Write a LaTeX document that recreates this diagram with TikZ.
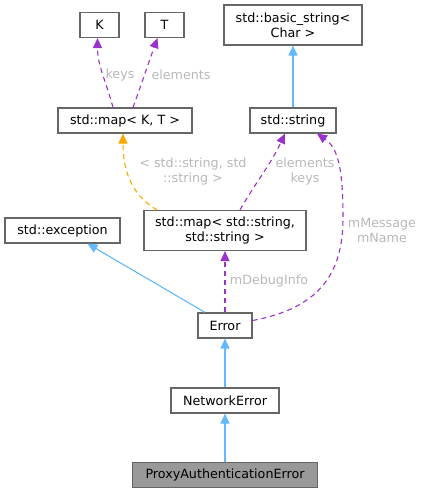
\documentclass[tikz,border=0pt]{standalone}
\usepackage{fontspec}
\setmainfont{DejaVu Sans}
\usetikzlibrary{arrows.meta}
\definecolor{inhblue}{HTML}{63B8FF}
\definecolor{usepurple}{HTML}{9A32CD}
\definecolor{tmporange}{HTML}{FFA500}
\definecolor{boxline}{HTML}{666666}
\definecolor{lblgray}{HTML}{B8B8B8}
\begin{document}
\begin{tikzpicture}[x=1pt,y=1pt,
    font=\fontsize{12.7}{15}\selectfont,
    cls/.style={draw=boxline,line width=1.2pt,rectangle,inner sep=2pt,minimum height=25,align=center},
    inh/.style={draw=inhblue,line width=1.1pt,-{Triangle[length=10pt,width=9pt,fill=inhblue]}},
    use/.style={draw=usepurple,line width=1.1pt,dash pattern=on 5pt off 4pt,-{Triangle[length=10pt,width=9pt,fill=usepurple]}},
    tmp/.style={draw=tmporange,line width=1.1pt,dash pattern=on 5pt off 4pt,-{Triangle[length=10pt,width=9pt,fill=tmporange]}},
    lbl/.style={text=lblgray,align=center,inner sep=0pt}]
    \useasboundingbox (0,0) rectangle (424,493);
        \node[cls,minimum width=39] (k) at (99.5,468) {K};
        \node[cls,minimum width=39] (t) at (164.5,468) {T};
        \node[cls,minimum width=138,minimum height=40] (bstr) at (293,468) {std::basic\_string<\\Char >};
        \node[cls,minimum width=134] (mapkt) at (125,372.5) {std::map< K, T >};
        \node[cls,minimum width=86] (str) at (293,372.5) {std::string};
        \node[cls,minimum width=115] (exc) at (62.5,262.5) {std::exception};
        \node[cls,minimum width=162,minimum height=40] (mapss) at (225,262.5) {std::map< std::string,\\std::string >};
        \node[cls,minimum width=54] (err) at (225,167.5) {Error};
        \node[cls,minimum width=108] (neterr) at (225,92.5) {NetworkError};
        \node[cls,minimum width=185,fill=black!40] (proxy) at (225,18) {ProxyAuthenticationError};

        \draw[use] ([xshift=-12]mapkt.north) to[out=105,in=-90] ([xshift=-2]k.south);
        \draw[use] ([xshift=8]mapkt.north) to[out=70,in=-110] ([xshift=-7]t.south);
        \draw[inh] (str) to (bstr);
        \draw[tmp] ([xshift=-68]mapss.north) to[out=150,in=-90] ([xshift=-2]mapkt.south);
        \draw[use] ([xshift=15]mapss.north) to[out=60,in=-115] ([xshift=-8]str.south);
        \draw[use] ([yshift=5]err.east) .. controls (320,185) and (343,220) .. (343,275)
            .. controls (343,325) and (338,345) .. ([xshift=24]str.south);
        \draw[inh] ([xshift=-20]err.north) to ([xshift=25]exc.south);
        \draw[use] (err) to (mapss);
        \draw[inh] (neterr) to (err);
        \draw[inh] (proxy) to (neterr);

        \node[lbl] (lkeys) at (120,418) {keys};
        \node[lbl] (lelem) at (181,418) {elements};
        \node[lbl] (ltmp) at (193,322) {< std::string, std\\::string >};
        \node[lbl] (lek) at (305,322) {elements\\keys};
        \node[lbl] (lmsg) at (382,263) {mMessage\\mName};
        \node[lbl] (ldbg) at (269,212) {mDebugInfo};
\end{tikzpicture}
\end{document}
